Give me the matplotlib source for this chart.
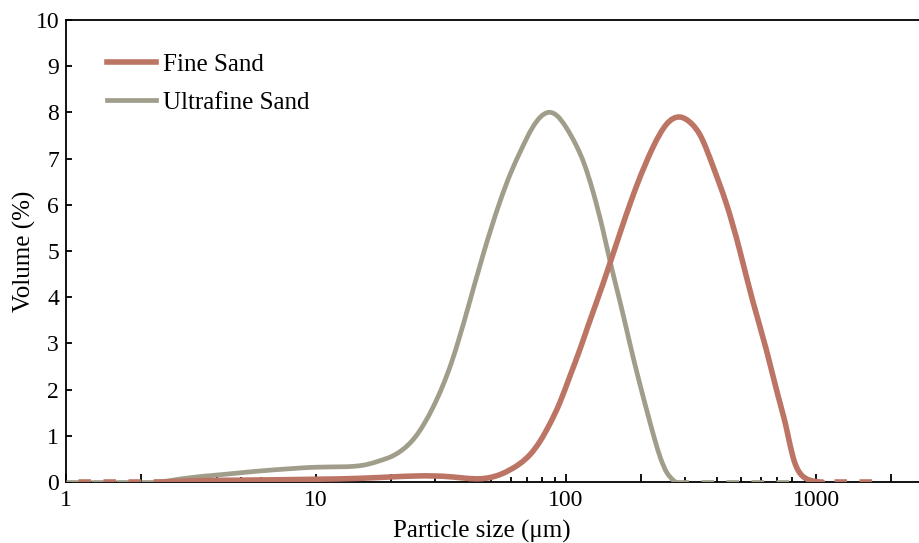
import numpy as np
import matplotlib
matplotlib.use("Agg")
import matplotlib.pyplot as plt
from matplotlib.ticker import FixedLocator, NullFormatter
from matplotlib.lines import Line2D
from matplotlib.path import Path
from matplotlib.patches import PathPatch

plt.rcParams['font.family'] = ['Liberation Serif', 'DejaVu Serif']
plt.rcParams['lines.scale_dashes'] = False

# ---------------- data ----------------
fine_size = [1, 2.3, 3, 5, 10, 15, 20, 25, 30, 35, 40, 45, 50, 55, 60, 65.5, 72, 78.7,
             86, 94.5, 103, 113.5, 122, 132, 150, 169, 192, 223, 252, 285, 320,
             343, 388, 437, 495, 557, 633, 700, 764, 809, 863, 944, 1060, 1700]
fine_vol = [0, 0, 0.02, 0.04, 0.06, 0.08, 0.11, 0.13, 0.13, 0.11, 0.08, 0.07, 0.10, 0.17,
            0.27, 0.40, 0.60, 0.88, 1.25, 1.72, 2.25, 2.86, 3.35, 3.87, 4.74, 5.58, 6.42,
            7.25, 7.74, 7.90, 7.74, 7.52, 6.82, 6.04, 5.02, 3.94, 2.86, 1.93, 1.13,
            0.54, 0.19, 0.04, 0, 0]

ultra_size = [1, 2.3, 2.6, 3, 4, 5, 6, 8, 10, 13, 16, 18, 20, 21.7, 25, 29.4, 35, 40.2,
              46.6, 54.6, 60, 65.5, 73.6, 79, 85, 92, 100, 110, 118, 128, 141, 150, 165,
              180, 197, 217, 238, 254, 267, 275, 850]
ultra_vol = [0, 0, 0.03, 0.08, 0.15, 0.20, 0.24, 0.29, 0.32, 0.33, 0.38, 0.46, 0.55, 0.66,
             0.98, 1.62, 2.62, 3.70, 4.92, 6.09, 6.68, 7.14, 7.68, 7.90, 8.00, 7.93, 7.68,
             7.28, 6.90, 6.30, 5.42, 4.78, 3.87, 3.00, 2.14, 1.28, 0.54, 0.19, 0.05, 0, 0]

series_names = ["Fine Sand", "Ultrafine Sand"]
fine_color = "#BC7465"
ultra_color = "#A09E8A"

x_major = [1, 2, 10, 20, 100, 200, 1000, 2000]
x_major_labels = ["1", "", "10", "", "100", "", "1000", ""]
y_ticks = list(range(0, 11))

# ---------------- helpers ----------------
def smooth_path(xs, ys):
    """C2 cubic spline (zero end slopes) through the points, in log-x space, as Bezier path."""
    u = np.log10(np.asarray(xs, float))
    y = np.asarray(ys, float)
    n = len(u)
    h = np.diff(u)
    d = np.diff(y) / h
    A = np.zeros((n, n))
    b = np.zeros(n)
    A[0, 0] = 1.0
    A[-1, -1] = 1.0
    for i in range(1, n - 1):
        A[i, i - 1] = h[i]
        A[i, i] = 2 * (h[i - 1] + h[i])
        A[i, i + 1] = h[i - 1]
        b[i] = 3 * (h[i] * d[i - 1] + h[i - 1] * d[i])
    m = np.linalg.solve(A, b)
    verts = [(10 ** u[0], y[0])]
    codes = [Path.MOVETO]
    for i in range(n - 1):
        c1 = (u[i] + h[i] / 3, y[i] + m[i] * h[i] / 3)
        c2 = (u[i + 1] - h[i] / 3, y[i + 1] - m[i + 1] * h[i] / 3)
        verts += [(10 ** c1[0], c1[1]), (10 ** c2[0], c2[1]), (10 ** u[i + 1], y[i + 1])]
        codes += [Path.CURVE4] * 3
    return Path(verts, codes)

# ---------------- figure ----------------
fig = plt.figure(figsize=(9.19, 5.43), dpi=100)
ax = fig.add_axes([66/919, 61/543, 853/919, 462/543])

def draw(size, vol, color, lw, z, dash_offset):
    path = smooth_path(size[1:-1], vol[1:-1])
    ax.add_patch(PathPatch(path, fill=False, edgecolor=color, lw=lw,
                           capstyle='round', joinstyle='round', zorder=z))
    ls = (dash_offset, (9, 9))
    ax.plot(size[:2], vol[:2], color=color, lw=lw, linestyle=ls,
            dash_capstyle='butt', zorder=z)
    ax.plot(size[-2:], vol[-2:], color=color, lw=lw, linestyle=ls,
            dash_capstyle='butt', zorder=z)

draw(ultra_size, ultra_vol, ultra_color, 3.4, 3, 0)
draw(fine_size, fine_vol, fine_color, 4.0, 4, 9)

ax.set_xscale('log')
ax.set_xlim(1, 2582)
ax.set_ylim(0, 10)

ax.xaxis.set_major_locator(FixedLocator(x_major))
ax.set_xticklabels(x_major_labels)
minor = [m * d for d in (1, 10, 100, 1000) for m in range(3, 10)]
ax.xaxis.set_minor_locator(FixedLocator(minor))
ax.xaxis.set_minor_formatter(NullFormatter())
ax.set_yticks(y_ticks)

ax.tick_params(axis='x', which='major', direction='in', length=6, width=1.3,
               labelsize=17, pad=6)
ax.tick_params(axis='x', which='minor', direction='in', length=3.5, width=1.3)
ax.tick_params(axis='y', direction='in', length=4.5, width=1.3, labelsize=17, pad=5)

for s in ('left', 'bottom', 'top'):
    ax.spines[s].set_linewidth(1.3)
ax.spines['right'].set_visible(False)

ax.set_xlabel("Particle size (μm)", fontsize=18)
ax.xaxis.set_label_coords(0.487, -0.083)
ax.set_ylabel("Volume (%)", fontsize=18)
ax.yaxis.set_label_coords(-0.035, 0.5)

handles = [Line2D([], [], color=fine_color, lw=4.0),
           Line2D([], [], color=ultra_color, lw=3.4)]
ax.legend(handles, series_names, loc='upper left', bbox_to_anchor=(0.048, 0.927),
          frameon=False, fontsize=18, handlelength=1.95, handletextpad=0.3,
          labelspacing=0.61, borderaxespad=0, borderpad=0)

fig.savefig("out.png", dpi=100)
